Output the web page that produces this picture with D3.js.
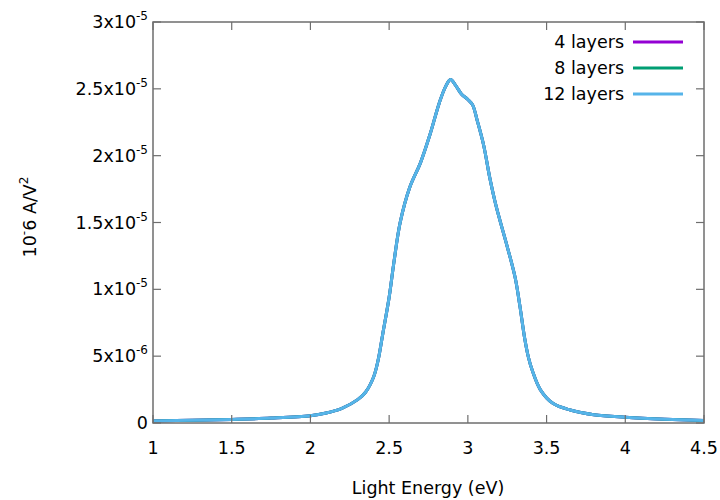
<!DOCTYPE html>
<html><head><meta charset="utf-8">
<script src="https://cdn.jsdelivr.net/npm/d3@7"></script>
<style>
body{margin:0;background:#fff;}
text{font-family:"DejaVu Sans",Verdana,sans-serif;fill:#000;}
</style></head>
<body><svg id="c" width="720" height="500"></svg>
<script>
const energy = [1.0,1.25,1.5,1.75,2.0,2.1,2.2,2.3,2.35,2.4,2.43,2.46,2.5,2.53,2.57,2.63,2.7,2.76,2.82,2.86,2.89,2.92,2.96,3.0,3.03,3.06,3.1,3.14,3.18,3.25,3.3,3.33,3.36,3.385,3.41,3.46,3.54,3.65,3.8,4.0,4.25,4.5];
const layers4 = [0.15,0.2,0.27,0.37,0.55,0.75,1.1,1.75,2.3,3.4,4.7,6.7,9.4,12.0,15.0,17.6,19.5,21.6,24.0,25.2,25.7,25.3,24.6,24.2,23.8,22.6,20.8,18.3,16.2,13.2,10.9,8.8,6.4,4.9,3.9,2.5,1.47,0.97,0.62,0.43,0.28,0.18];
const layers8 = [0.15,0.2,0.27,0.37,0.55,0.75,1.1,1.75,2.3,3.4,4.7,6.7,9.4,12.0,15.0,17.6,19.5,21.6,24.0,25.2,25.7,25.3,24.6,24.2,23.8,22.6,20.8,18.3,16.2,13.2,10.9,8.8,6.4,4.9,3.9,2.5,1.47,0.97,0.62,0.43,0.28,0.18];
const layers12 = [0.15,0.2,0.27,0.37,0.55,0.75,1.1,1.75,2.3,3.4,4.7,6.7,9.4,12.0,15.0,17.6,19.5,21.6,24.0,25.2,25.7,25.3,24.6,24.2,23.8,22.6,20.8,18.3,16.2,13.2,10.9,8.8,6.4,4.9,3.9,2.5,1.47,0.97,0.62,0.43,0.28,0.18];
const seriesNames = ["4 layers","8 layers","12 layers"];
const seriesColors = ["#9400d3","#009e73","#56b4e9"];
const xTicks = [1,1.5,2,2.5,3,3.5,4,4.5];
const yTicks = [0,5,10,15,20,25,30]; // in units of 1e-6
const yTickMant = ["0","5","1","1.5","2","2.5","3"];
const yTickExp = ["","-6","-5","-5","-5","-5","-5"];

const svg = d3.select("#c");
const L=153, R=704, T=22, B=423;
const x = d3.scaleLinear().domain([1,4.5]).range([L,R]);
const y = d3.scaleLinear().domain([0,30]).range([B,T]);
const frame="#6e6e6e";
const tl=8;
const fs=17.5;

// series lines
const line = d3.line().x(d=>x(d[0])).y(d=>y(d[1])).curve(d3.curveCatmullRom.alpha(0.5));
const allSeries=[layers4,layers8,layers12];
const g = svg.append("g");
allSeries.forEach((s,i)=>{
  g.append("path").datum(energy.map((e,j)=>[e,s[j]]))
   .attr("d",line).attr("fill","none").attr("stroke",seriesColors[i]).attr("stroke-width",3)
   .attr("stroke-linejoin","round");
});

// frame
svg.append("rect").attr("x",L).attr("y",T).attr("width",R-L).attr("height",B-T)
  .attr("fill","none").attr("stroke",frame).attr("stroke-width",1.5);

// x ticks
const xa = svg.append("g");
xTicks.forEach(t=>{
  const px=x(t);
  xa.append("line").attr("x1",px).attr("x2",px).attr("y1",B).attr("y2",B-tl).attr("stroke",frame).attr("stroke-width",1.2);
  xa.append("line").attr("x1",px).attr("x2",px).attr("y1",T).attr("y2",T+tl).attr("stroke",frame).attr("stroke-width",1.2);
  xa.append("text").attr("x",px).attr("y",454).attr("text-anchor","middle").attr("font-size",fs).text(String(t));
});
// y ticks
const ya = svg.append("g");
yTicks.forEach((t,i)=>{
  const py=y(t);
  ya.append("line").attr("x1",L).attr("x2",L+tl).attr("y1",py).attr("y2",py).attr("stroke",frame).attr("stroke-width",1.2);
  ya.append("line").attr("x1",R).attr("x2",R-tl).attr("y1",py).attr("y2",py).attr("stroke",frame).attr("stroke-width",1.2);
  const tx = ya.append("text").attr("x",148).attr("y",py+6).attr("text-anchor","end").attr("font-size",fs);
  if(yTickExp[i]===""){ tx.text(yTickMant[i]); }
  else{
    tx.append("tspan").text(yTickMant[i]+"x10");
    tx.append("tspan").attr("dy",-8).attr("font-size",12).text(yTickExp[i]);
  }
});

// axis labels
svg.append("text").attr("x",428).attr("y",494).attr("text-anchor","middle").attr("font-size",fs).text("Light Energy (eV)");
const yl = svg.append("text").attr("transform","translate(36,217) rotate(-90)").attr("text-anchor","middle").attr("font-size",fs);
yl.append("tspan").text("10");
yl.append("tspan").attr("dy",-8).attr("font-size",12).text("-");
yl.append("tspan").attr("dy",8).text("6 A/V");
yl.append("tspan").attr("dy",-8).attr("font-size",12).text("2");

// legend
const lg = svg.append("g");
seriesNames.forEach((n,i)=>{
  const cy = 42 + i*26;
  lg.append("text").attr("x",624).attr("y",cy+6).attr("text-anchor","end").attr("font-size",fs).text(n);
  lg.append("line").attr("x1",633).attr("x2",683).attr("y1",cy).attr("y2",cy).attr("stroke",seriesColors[i]).attr("stroke-width",3);
});
</script></body></html>
